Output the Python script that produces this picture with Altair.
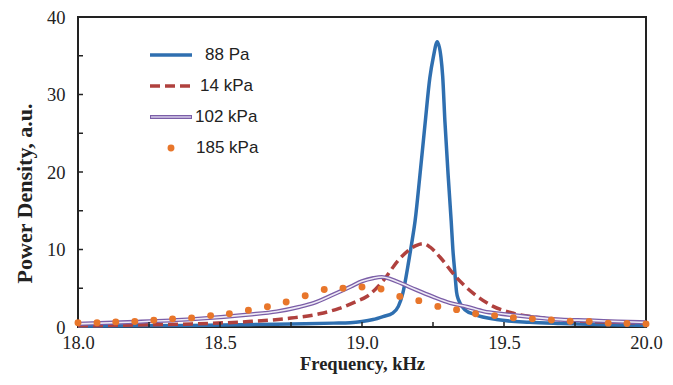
import altair as alt
import pandas as pd

# ---- data ----
# 88 Pa (solid blue)
f88 = [18.0, 18.2, 18.4, 18.6, 18.75, 18.9, 18.958, 19.0, 19.039, 19.074, 19.108, 19.128,
       19.144, 19.165, 19.175, 19.187, 19.204, 19.222, 19.239, 19.251, 19.265,
       19.278, 19.284, 19.292, 19.304, 19.314, 19.32, 19.327, 19.333, 19.34,
       19.363, 19.398, 19.474, 19.59, 19.7, 19.8, 19.9, 20.0]
p88 = [0.1, 0.15, 0.2, 0.3, 0.4, 0.5, 0.55, 0.7, 0.96, 1.35, 1.8, 2.66,
       4.4, 8.6, 10.8, 13.7, 19.6, 26.2, 32.2, 34.8, 36.8,
       34.8, 32.4, 26.5, 19.2, 13.7, 10.0, 7.0, 4.5, 3.5,
       2.2, 1.6, 0.96, 0.6, 0.45, 0.35, 0.25, 0.2]

# 14 kPa (dashed red)
f14 = [18.0, 18.2, 18.4, 18.6, 18.75, 18.85, 18.92, 18.98, 19.02, 19.075, 19.13, 19.19,
       19.215, 19.24, 19.275, 19.33, 19.39, 19.46, 19.53, 19.65, 19.8, 19.9, 20.0]
p14 = [0.15, 0.25, 0.4, 0.7, 1.15, 1.7, 2.4, 3.3, 4.0, 6.0, 8.7, 10.5,
       10.75, 10.3, 9.0, 6.5, 4.4, 2.7, 1.8, 1.1, 0.7, 0.6, 0.5]

# 102 kPa (double purple line)
f102 = [18.0, 18.2, 18.4, 18.6, 18.7, 18.78, 18.83, 18.9, 18.96, 19.0, 19.04, 19.07,
        19.1, 19.14, 19.19, 19.25, 19.31, 19.37, 19.43, 19.49, 19.59, 19.7, 19.8, 19.9, 20.0]
p102 = [0.4, 0.65, 1.0, 1.6, 2.0, 2.6, 3.1, 4.2, 5.2, 5.9, 6.3, 6.45,
        6.2, 5.6, 4.8, 3.9, 3.1, 2.6, 2.0, 1.7, 1.3, 0.95, 0.85, 0.7, 0.6]

# 185 kPa (orange dots)
f185 = [18.0, 18.067, 18.133, 18.2, 18.267, 18.333, 18.4, 18.467, 18.533, 18.6, 18.667,
        18.733, 18.8, 18.867, 18.933, 19.0, 19.067, 19.133, 19.2, 19.267, 19.333, 19.4,
        19.467, 19.533, 19.6, 19.667, 19.733, 19.8, 19.867, 19.933, 20.0]
p185 = [0.54, 0.54, 0.66, 0.72, 0.87, 1.05, 1.15, 1.47, 1.72, 2.15, 2.62,
        3.22, 4.03, 4.83, 5.0, 5.15, 4.9, 3.95, 3.4, 2.66, 2.24, 1.7,
        1.47, 1.2, 1.05, 0.9, 0.74, 0.7, 0.5, 0.45, 0.4]

x_labels = [18.0, 18.5, 19.0, 19.5, 20.0]
y_labels = [0, 10, 20, 30, 40]
x_minor = [18.25, 18.5, 18.75, 19.0, 19.25, 19.5, 19.75]
y_minor = [5, 10, 15, 20, 25, 30, 35]
legend_labels = ["88 Pa", "14 kPa", "102 kPa", "185 kPa"]

# ---- styling ----
W, H = 568, 310
SERIF = "Liberation Serif"
SANS = "Liberation Sans"
BLUE, RED, PURPLE, ORANGE = "#2f6fb0", "#b0413e", "#7b5ea7", "#e8762b"
INK = "#222222"

xs = alt.Scale(domain=[18, 20], nice=False, zero=False)
ys = alt.Scale(domain=[0, 40], nice=False, zero=False)

d88 = pd.DataFrame({"f": f88, "p": p88})
d14 = pd.DataFrame({"f": f14, "p": p14})
d102 = pd.DataFrame({"f": f102, "p": p102})
d185 = pd.DataFrame({"f": f185, "p": p185})

xaxis = alt.Axis(values=x_labels, format=".1f", title="Frequency, kHz", ticks=False,
                 domain=False, grid=False, labelFont=SERIF, labelFontSize=18.5,
                 labelColor=INK, labelPadding=6, labelFlush=False, titleFont=SERIF,
                 titleFontSize=18.5, titleFontWeight="bold", titleColor=INK, titlePadding=3)
yaxis = alt.Axis(values=y_labels, format="d", title="Power Density, a.u.", ticks=False,
                 domain=False, grid=False, labelFont=SERIF, labelFontSize=18.5,
                 labelColor=INK, labelPadding=13, titleFont=SERIF, titleFontSize=22,
                 titleFontWeight="bold", titleColor=INK, titlePadding=10, titleY=176)

X = alt.X("f:Q", scale=xs, axis=xaxis)
Y = alt.Y("p:Q", scale=ys, axis=yaxis)

blue = alt.Chart(d88).mark_line(color=BLUE, strokeWidth=3.5, interpolate="monotone").encode(x=X, y=Y)
red = alt.Chart(d14).mark_line(color=RED, strokeWidth=3.5, strokeDash=[10, 5],
                                interpolate="monotone").encode(x=X, y=Y)
purple_out = alt.Chart(d102).mark_line(color=PURPLE, strokeWidth=4.2,
                                       interpolate="monotone").encode(x=X, y=Y)
purple_in = alt.Chart(d102).mark_line(color="#eeeaf6", strokeWidth=1.6,
                                      interpolate="monotone").encode(x=X, y=Y)
dots = alt.Chart(d185).mark_circle(color=ORANGE, size=48, opacity=1).encode(x=X, y=Y)

# inward minor ticks
xt = alt.Chart(pd.DataFrame({"f": x_minor})).mark_rule(color=INK, strokeWidth=1.5).encode(
    x=X, y=alt.value(H), y2=alt.value(H - 5))
yt = alt.Chart(pd.DataFrame({"p": y_minor})).mark_rule(color=INK, strokeWidth=1.5).encode(
    y=Y, x=alt.value(0), x2=alt.value(5))


# legend (pixel positions inside the plot area)
def one(label):
    return pd.DataFrame({"label": [label]})


LX1, LX2 = 72, 114
LY = [38, 69, 100, 131]
LTX = [127, 122, 117, 118]

leg = []
leg.append(alt.Chart(one(legend_labels[0])).mark_rule(color=BLUE, strokeWidth=3.5).encode(
    x=alt.value(LX1), x2=alt.value(LX2), y=alt.value(LY[0])))
leg.append(alt.Chart(one(legend_labels[1])).mark_rule(color=RED, strokeWidth=3.5, strokeDash=[10, 5]).encode(
    x=alt.value(LX1), x2=alt.value(LX2), y=alt.value(LY[1])))
leg.append(alt.Chart(one(legend_labels[2])).mark_rule(color=PURPLE, strokeWidth=4.2).encode(
    x=alt.value(LX1), x2=alt.value(LX2), y=alt.value(LY[2])))
leg.append(alt.Chart(one(legend_labels[2])).mark_rule(color="#d6cdea", strokeWidth=1.6).encode(
    x=alt.value(LX1 + 1), x2=alt.value(LX2 - 1), y=alt.value(LY[2])))
leg.append(alt.Chart(one(legend_labels[3])).mark_circle(color=ORANGE, size=48, opacity=1).encode(
    x=alt.value(93), y=alt.value(LY[3])))
for i, lab in enumerate(legend_labels):
    leg.append(alt.Chart(one(lab)).mark_text(align="left", baseline="middle", font=SANS,
                                              fontSize=17, color=INK).encode(
        x=alt.value(LTX[i]), y=alt.value(LY[i]), text="label:N"))

chart = alt.layer(blue, red, purple_out, purple_in, dots, xt, yt, *leg).properties(
    width=W, height=H,
    autosize=alt.AutoSizeParams(type="none"),
    padding={"left": 70, "top": 9, "right": 19, "bottom": 50},
    background="white",
).configure_view(stroke=INK, strokeWidth=2)

chart.save("out.html", embed_options={"renderer": "svg", "actions": False})
